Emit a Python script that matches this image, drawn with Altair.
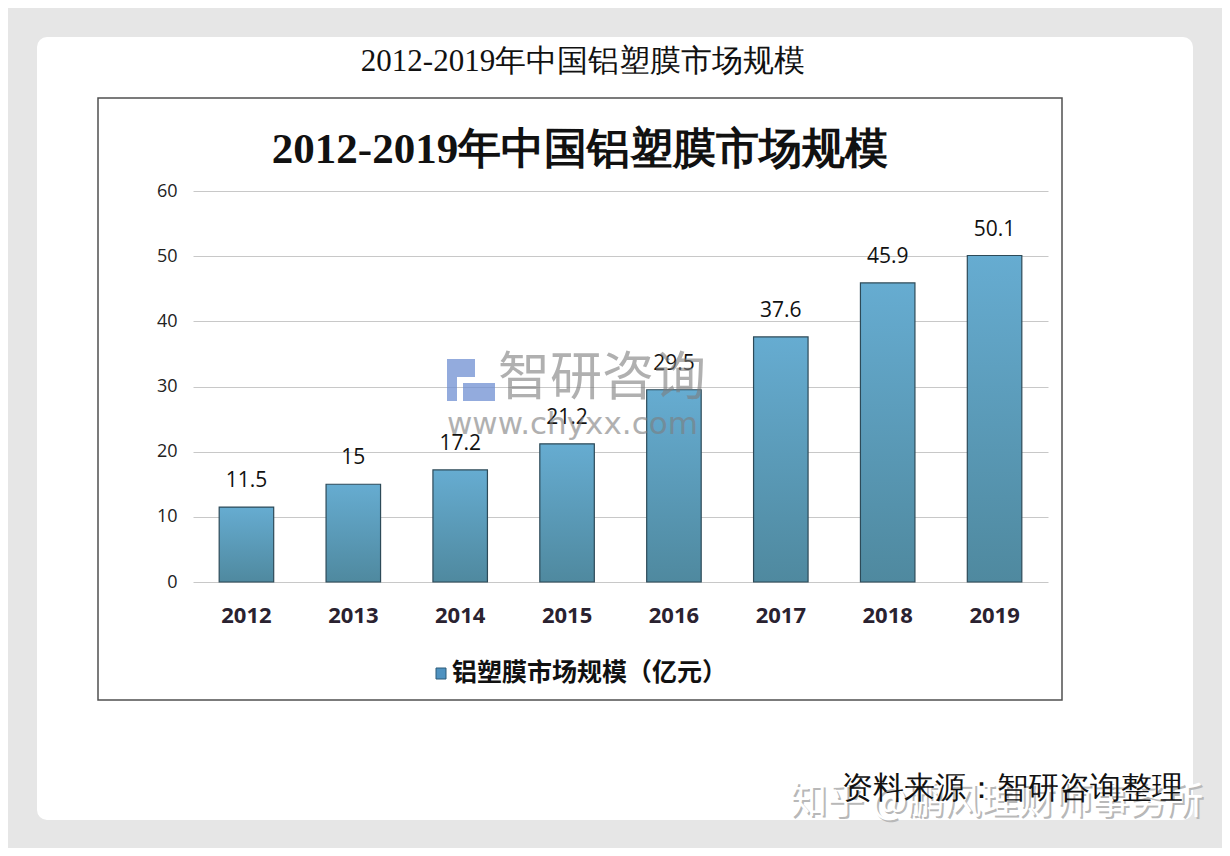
import altair as alt
import pandas as pd

years = ["2012", "2013", "2014", "2015", "2016", "2017", "2018", "2019"]
values = [11.5, 15, 17.2, 21.2, 29.5, 37.6, 45.9, 50.1]
labels = ["11.5", "15", "17.2", "21.2", "29.5", "37.6", "45.9", "50.1"]
y_ticks = [0, 10, 20, 30, 40, 50, 60]
title_text = "2012-2019年中国铝塑膜市场规模"
legend_text = "铝塑膜市场规模（亿元）"
source_text = "资料来源：智研咨询整理"
watermark_text = "知乎 @鹏风理财师事务所"
logo_text = "智研咨询"
logo_url = "www.chyxx.com"

df = pd.DataFrame({"year": years, "value": values, "label": labels})
one = pd.DataFrame({"k": [0]})

W, H = 855, 391

# gray frame around the white card (thick stroked rounded rect)
frame = alt.Chart(one).mark_rect(
    fill=None, stroke="#e6e6e6", strokeWidth=80, cornerRadius=50
).encode(x=alt.value(-196), x2=alt.value(1040), y=alt.value(-194), y2=alt.value(669))

box = alt.Chart(one).mark_rect(
    fill=None, stroke="#505050", strokeWidth=1.5
).encode(x=alt.value(-95), x2=alt.value(869), y=alt.value(-93), y2=alt.value(509))

top_title = alt.Chart(one).mark_text(
    text=title_text, font="Liberation Serif", fontSize=31, color="#111",
    align="center", baseline="middle"
).encode(x=alt.value(390), y=alt.value(-129))

inner_title = alt.Chart(one).mark_text(
    text=title_text, font="Liberation Serif", fontSize=43, fontWeight="bold",
    color="#111", align="center", baseline="middle"
).encode(x=alt.value(387), y=alt.value(-41))

grad = alt.Gradient(
    gradient="linear",
    stops=[alt.GradientStop(color="#66acd1", offset=0),
           alt.GradientStop(color="#4f899f", offset=1)],
    x1=0, x2=0, y1=0, y2=1,
)

xenc = alt.X("year:N", sort=years, title=None,
             scale=alt.Scale(paddingInner=0.49, paddingOuter=0.245),
             axis=alt.Axis(labelAngle=0, domain=False, ticks=False, labelPadding=23,
                           labelFontSize=22, labelFontWeight="bold", labelFont="Open Sans",
                           labelColor="#2a2230"))
yenc = alt.Y("value:Q", title=None,
             scale=alt.Scale(domain=[0, 60], nice=False),
             axis=alt.Axis(values=y_ticks, domain=False, ticks=False, labelPadding=16,
                           labelFontSize=18, labelFont="Open Sans", labelColor="#222",
                           gridColor="#c8c8c8", gridWidth=1))

bars = alt.Chart(df).mark_bar(fill=grad, stroke="#2d4a58", strokeWidth=1.2).encode(
    x=xenc, y=yenc)

bar_labels = alt.Chart(df).mark_text(
    font="Open Sans", fontSize=21, color="#111", baseline="middle", dy=-26
).encode(x=alt.X("year:N", sort=years), y="value:Q", text="label:N")

wm_logo = alt.Chart(one).mark_text(
    text=logo_text, font="Noto Sans CJK SC", fontSize=52, color="#7d7d7d", opacity=0.6,
    align="left", baseline="middle"
).encode(x=alt.value(305), y=alt.value(188))
wm_url = alt.Chart(one).mark_text(
    text=logo_url, font="DejaVu Sans", fontSize=31, color="#7d7d7d", opacity=0.6,
    align="left", baseline="middle"
).encode(x=alt.value(254), y=alt.value(234))
wm_icon1 = alt.Chart(one).mark_rect(fill="#6f8fd2", opacity=0.75).encode(
    x=alt.value(254), x2=alt.value(282), y=alt.value(168), y2=alt.value(186))
wm_icon2 = alt.Chart(one).mark_rect(fill="#6f8fd2", opacity=0.75).encode(
    x=alt.value(270), x2=alt.value(302), y=alt.value(192), y2=alt.value(210))
wm_icon3 = alt.Chart(one).mark_rect(fill="#6f8fd2", opacity=0.75).encode(
    x=alt.value(254), x2=alt.value(264), y=alt.value(186), y2=alt.value(210))

legend_sq = alt.Chart(one).mark_rect(fill="#4f92c0", stroke="#2d5a78", strokeWidth=1).encode(
    x=alt.value(243), x2=alt.value(253), y=alt.value(477), y2=alt.value(488))
legend_txt = alt.Chart(one).mark_text(
    text=legend_text, font="Noto Sans CJK SC", fontSize=25, fontWeight="bold",
    color="#111", align="left", baseline="middle"
).encode(x=alt.value(259), y=alt.value(482))

wm_shadow = alt.Chart(one).mark_text(
    text=watermark_text, font="Noto Sans CJK SC", fontSize=37, color="#b8b8b8",
    align="left", baseline="middle"
).encode(x=alt.value(599), y=alt.value(614))
wm_white = alt.Chart(one).mark_text(
    text=watermark_text, font="Noto Sans CJK SC", fontSize=37, color="#ffffff",
    align="left", baseline="middle"
).encode(x=alt.value(597), y=alt.value(612))

source = alt.Chart(one).mark_text(
    text=source_text, font="Liberation Serif", fontSize=31, color="#111",
    align="right", baseline="middle"
).encode(x=alt.value(990), y=alt.value(598))

chart = alt.layer(
    frame, box, top_title, inner_title, bars, bar_labels,
    wm_icon1, wm_icon2, wm_icon3, wm_logo, wm_url,
    legend_sq, legend_txt, wm_shadow, wm_white, source
).properties(
    width=W, height=H,
    autosize=alt.AutoSizeParams(type="none"),
    padding={"left": 185, "top": 183, "right": 174, "bottom": 266},
    background="#ffffff",
).configure_view(strokeWidth=0)

chart.save("out.html", embed_options={"renderer": "svg", "actions": False})
